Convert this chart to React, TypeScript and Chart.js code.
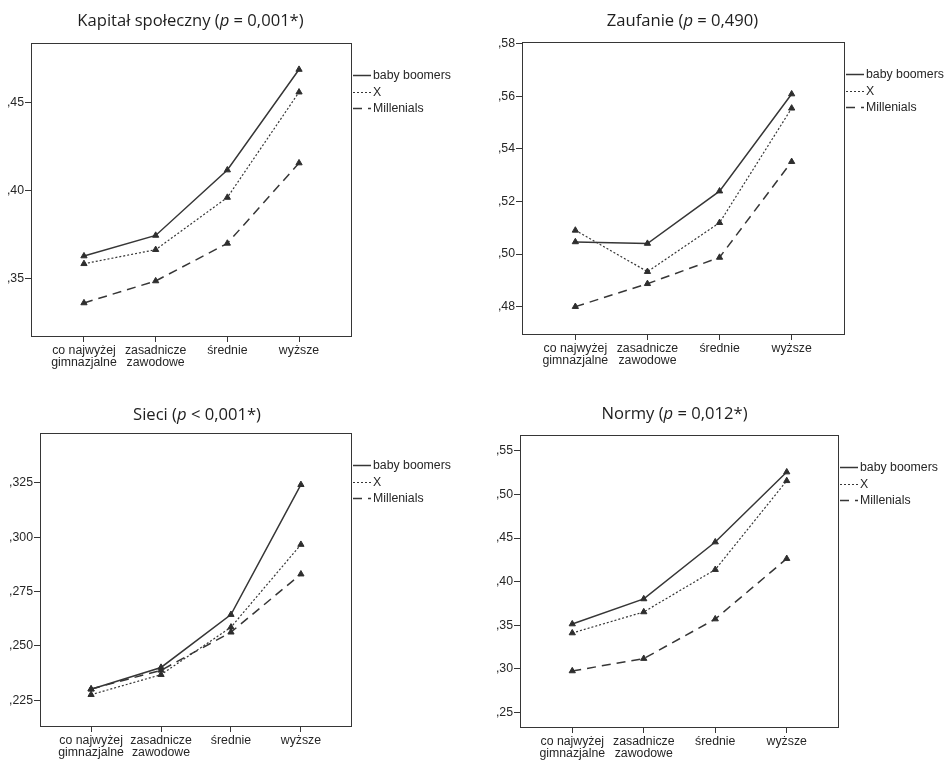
import React, { useEffect, useRef } from 'react';
import { Chart, registerables } from 'chart.js';

Chart.register(...registerables);

// ---------- data ----------
const categories: string[][] = [
  ['co najwyżej', 'gimnazjalne'],
  ['zasadnicze', 'zawodowe'],
  ['średnie'],
  ['wyższe'],
];
const seriesNames = ['baby boomers', 'X', 'Millenials'];

const kapitalBoomers = [0.3627, 0.3744, 0.4116, 0.4688];
const kapitalX = [0.3583, 0.3663, 0.396, 0.4559];
const kapitalMillenials = [0.336, 0.3485, 0.3699, 0.4156];
const kapitalTicks = [0.35, 0.4, 0.45];

const zaufanieBoomers = [0.5046, 0.504, 0.5239, 0.5608];
const zaufanieX = [0.509, 0.4933, 0.5119, 0.5554];
const zaufanieMillenials = [0.48, 0.4887, 0.4987, 0.5351];
const zaufanieTicks = [0.48, 0.5, 0.52, 0.54, 0.56, 0.58];

const sieciBoomers = [0.2301, 0.2401, 0.2644, 0.3241];
const sieciX = [0.2276, 0.2368, 0.2586, 0.2966];
const sieciMillenials = [0.2302, 0.2388, 0.2563, 0.283];
const sieciTicks = [0.225, 0.25, 0.275, 0.3, 0.325];

const normyBoomers = [0.3515, 0.3802, 0.4454, 0.5256];
const normyX = [0.3412, 0.3653, 0.4138, 0.5156];
const normyMillenials = [0.2977, 0.3119, 0.3572, 0.4264];
const normyTicks = [0.25, 0.3, 0.35, 0.4, 0.45, 0.5, 0.55];

// ---------- styles ----------
const LINE_COLOR = '#363636';
const TEXT_COLOR = '#262626';
const FONT = '"Liberation Sans", Arial, sans-serif';
const TITLE_FONT = '"Open Sans", "Noto Sans", sans-serif';
const seriesDash = [[], [2, 2], [9, 6]];
const seriesWidth = [1.5, 1.2, 1.5];

type TitlePart = { text: string; italic?: boolean };

interface PanelCfg {
  left: number; top: number; w: number; h: number;
  area: { l: number; r: number; t: number; b: number };
  yMin: number; yMax: number; yTicks: number[]; decimals: number;
  xPad: number;
  series: number[][];
  title: TitlePart[];
  titleY: number; titleDx: number;
}

const panels: PanelCfg[] = [
  {
    left: 0, top: 0, w: 474, h: 380,
    area: { l: 32, r: 351, t: 44, b: 336 },
    yMin: 0.3172, yMax: 0.4833, yTicks: kapitalTicks, decimals: 2, xPad: 0.725,
    series: [kapitalBoomers, kapitalX, kapitalMillenials],
    title: [{ text: 'Kapitał społeczny (' }, { text: 'p', italic: true }, { text: ' = 0,001*)' }],
    titleY: 21, titleDx: -1,
  },
  {
    left: 474, top: 0, w: 475, h: 380,
    area: { l: 523, r: 844, t: 43, b: 334 },
    yMin: 0.4696, yMax: 0.5802, yTicks: zaufanieTicks, decimals: 2, xPad: 0.726,
    series: [zaufanieBoomers, zaufanieX, zaufanieMillenials],
    title: [{ text: 'Zaufanie (' }, { text: 'p', italic: true }, { text: ' = 0,490)' }],
    titleY: 21, titleDx: -1,
  },
  {
    left: 0, top: 380, w: 474, h: 380,
    area: { l: 41, r: 351, t: 434, b: 726 },
    yMin: 0.2132, yMax: 0.3474, yTicks: sieciTicks, decimals: 3, xPad: 0.716,
    series: [sieciBoomers, sieciX, sieciMillenials],
    title: [{ text: 'Sieci (' }, { text: 'p', italic: true }, { text: ' < 0,001*)' }],
    titleY: 35, titleDx: 1,
  },
  {
    left: 474, top: 380, w: 475, h: 380,
    area: { l: 521, r: 838, t: 436, b: 727 },
    yMin: 0.2335, yMax: 0.5669, yTicks: normyTicks, decimals: 2, xPad: 0.717,
    series: [normyBoomers, normyX, normyMillenials],
    title: [{ text: 'Normy (' }, { text: 'p', italic: true }, { text: ' = 0,012*)' }],
    titleY: 34, titleDx: -5,
  },
];

function fmtTick(v: number, d: number) {
  return v.toFixed(d).replace(/^0\./, ',');
}

const decorPlugin = {
  id: 'decor',
  beforeDatasetsDraw(chart: any) {
    const { ctx, chartArea: a } = chart;
    ctx.save();
    ctx.strokeStyle = LINE_COLOR;
    ctx.lineWidth = 1;
    ctx.strokeRect(Math.round(a.left) - 0.5, Math.round(a.top) - 0.5, Math.round(a.right - a.left) + 1, Math.round(a.bottom - a.top) + 1);
    ctx.restore();
  },
  afterDraw(chart: any, _args: any, opts: any) {
    const { ctx, chartArea: a } = chart;
    const cfg: PanelCfg = opts.cfg;
    ctx.save();
    // title
    const size = 16.6;
    const fonts = cfg.title.map((p) => `${p.italic ? 'italic ' : ''}${size}px ${TITLE_FONT}`);
    let total = 0;
    const widths = cfg.title.map((p, i) => { ctx.font = fonts[i]; const w = ctx.measureText(p.text).width; total += w; return w; });
    let x = (a.left + a.right) / 2 + cfg.titleDx - total / 2;
    ctx.fillStyle = '#1e1e1e';
    ctx.textBaseline = 'middle';
    ctx.textAlign = 'left';
    cfg.title.forEach((p, i) => { ctx.font = fonts[i]; ctx.fillText(p.text, x, cfg.titleY); x += widths[i]; });
    // legend
    ctx.font = `12.3px ${FONT}`;
    seriesNames.forEach((name, i) => {
      const y = Math.round(a.top + 31 + i * 16.5) + 0.5;
      ctx.strokeStyle = LINE_COLOR;
      ctx.lineWidth = seriesWidth[i];
      ctx.setLineDash(seriesDash[i]);
      ctx.beginPath();
      ctx.moveTo(a.right + 2, y);
      ctx.lineTo(a.right + 20, y);
      ctx.stroke();
      ctx.setLineDash([]);
      ctx.fillStyle = TEXT_COLOR;
      ctx.fillText(name, a.right + 22, y);
    });
    ctx.restore();
  },
};

function Panel({ cfg }: { cfg: PanelCfg }) {
  const ref = useRef<HTMLCanvasElement>(null);
  useEffect(() => {
    const yW = cfg.area.l - cfg.left;
    const xH = cfg.top + cfg.h - cfg.area.b;
    const pad = { left: 0, top: cfg.area.t - cfg.top, right: cfg.left + cfg.w - cfg.area.r, bottom: 0 };
    const datasets = cfg.series.map((vals, si) => ({
      label: seriesNames[si],
      data: vals.map((v, i) => ({ x: i, y: v })),
      borderColor: LINE_COLOR,
      borderWidth: seriesWidth[si],
      borderDash: seriesDash[si],
      pointStyle: 'triangle' as const,
      pointRadius: 3.6,
      pointBackgroundColor: '#2e2e2e',
      pointBorderColor: '#2e2e2e',
      pointBorderWidth: 1,
      tension: 0,
      fill: false,
    }));
    const chart = new Chart(ref.current!, {
      type: 'line',
      data: { datasets },
      options: {
        animation: false,
        responsive: false,
        devicePixelRatio: 1,
        layout: { padding: pad },
        plugins: {
          legend: { display: false },
          title: { display: false },
          tooltip: { enabled: false },
          decor: { cfg },
        } as any,
        scales: {
          x: {
            type: 'linear',
            min: -cfg.xPad,
            max: 3 + cfg.xPad,
            afterBuildTicks: (s: any) => { s.ticks = categories.map((_, i) => ({ value: i })); },
            afterFit: (s: any) => { s.height = xH; },
            border: { display: false },
            grid: { drawOnChartArea: false, drawTicks: true, tickLength: 6, color: LINE_COLOR, lineWidth: 1 },
            ticks: {
              autoSkip: false,
              maxRotation: 0,
              padding: 2,
              color: TEXT_COLOR,
              font: { family: FONT, size: 12.3, lineHeight: 1.03 },
              callback: (v: any) => categories[Math.round(Number(v))],
            },
          },
          y: {
            type: 'linear',
            min: cfg.yMin,
            max: cfg.yMax,
            afterBuildTicks: (s: any) => { s.ticks = cfg.yTicks.map((v) => ({ value: v })); },
            afterFit: (s: any) => { s.width = yW; },
            border: { display: false },
            grid: { drawOnChartArea: false, drawTicks: true, tickLength: 7, color: LINE_COLOR, lineWidth: 1 },
            ticks: {
              padding: 1,
              color: TEXT_COLOR,
              font: { family: FONT, size: 12.3 },
              callback: (v: any) => fmtTick(Number(v), cfg.decimals),
            },
          },
        },
      },
      plugins: [decorPlugin],
    });
    return () => chart.destroy();
  }, []);
  return (
    <canvas
      ref={ref}
      width={cfg.w}
      height={cfg.h}
      style={{ position: 'absolute', left: cfg.left, top: cfg.top, width: cfg.w, height: cfg.h }}
    />
  );
}

export default function App() {
  return (
    <div style={{ position: 'absolute', left: 0, top: 0, width: 949, height: 760, background: '#fff', overflow: 'hidden' }}>
      {panels.map((p, i) => (
        <Panel key={i} cfg={p} />
      ))}
    </div>
  );
}
